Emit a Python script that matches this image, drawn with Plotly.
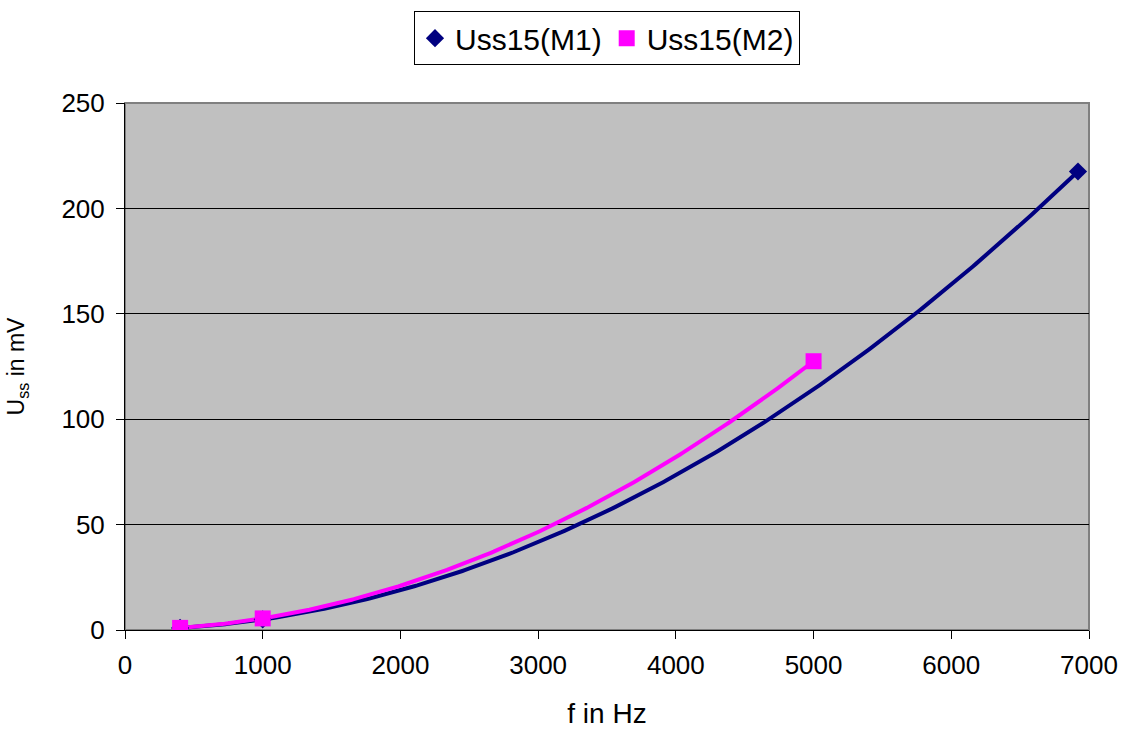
import numpy as np
import plotly.graph_objects as go

# Measured peak-to-peak voltage vs. frequency
f_m1 = [400, 1000, 6920]
u_m1 = [1.0, 5.0, 217.5]

f_m2 = [400, 1000, 5000]
u_m2 = [1.0, 5.5, 127.5]

x_ticks = [0, 1000, 2000, 3000, 4000, 5000, 6000, 7000]
y_ticks = [0, 50, 100, 150, 200, 250]

NAVY = "#000080"
MAGENTA = "#FF00FF"
FONT = "Liberation Sans, Arial, sans-serif"


def quad_trend(fx, uy, n=300):
    """2nd-order polynomial trendline over the measured frequency range."""
    coeffs = np.polyfit(fx, uy, 2)
    xs = np.linspace(min(fx), max(fx), n)
    return xs, np.polyval(coeffs, xs)


fig = go.Figure()

# trendlines (not in legend)
for fx, uy, col in [(f_m1, u_m1, NAVY), (f_m2, u_m2, MAGENTA)]:
    xs, ys = quad_trend(fx, uy)
    fig.add_trace(go.Scatter(x=xs, y=ys, mode="lines", showlegend=False,
                             line=dict(color=col, width=4), hoverinfo="skip"))

# measured points
fig.add_trace(go.Scatter(x=f_m1, y=u_m1, mode="markers", name="Uss15(M1)",
                         marker=dict(symbol="diamond", size=14, color=NAVY)))
fig.add_trace(go.Scatter(x=f_m2, y=u_m2, mode="markers", name="Uss15(M2)",
                         marker=dict(symbol="square", size=16, color=MAGENTA)))

fig.update_layout(
    width=1123, height=729,
    margin=dict(l=125, r=34, t=102, b=99, pad=0),
    paper_bgcolor="white",
    plot_bgcolor="#C0C0C0",
    font=dict(family=FONT, size=26, color="black"),
    legend=dict(orientation="h", x=0.5, xanchor="center", y=1.172, yanchor="top",
                bgcolor="white", bordercolor="black", borderwidth=1,
                font=dict(size=30), itemsizing="trace", traceorder="normal",
                itemwidth=30, tracegroupgap=0),
    xaxis=dict(range=[0, 7000], tickvals=x_ticks, ticks="outside", ticklen=8,
               tickcolor="black", showline=True, linecolor="black", linewidth=1,
               showgrid=False, zeroline=False, ticklabelstandoff=4, automargin=False,
               title=dict(text="f in Hz", font=dict(size=28), standoff=33)),
    yaxis=dict(range=[0, 250], tickvals=y_ticks, ticks="outside", ticklen=8,
               tickcolor="black", showline=True, linecolor="black", linewidth=1,
               showgrid=True, gridcolor="black", gridwidth=1, zeroline=False,
               ticklabelstandoff=6, automargin=False,
               title=dict(text="U<sub>ss</sub> in mV", font=dict(size=23), standoff=30)),
    shapes=[dict(type="rect", xref="paper", yref="paper", x0=0, x1=1, y0=0, y1=1,
                 line=dict(color="#808080", width=2), layer="below")],
)

fig.write_html("out.html")
